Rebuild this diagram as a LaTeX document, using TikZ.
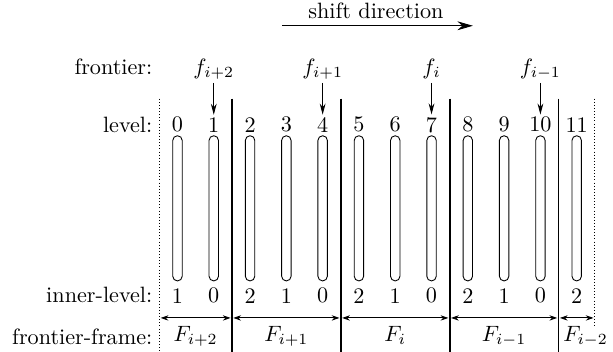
\documentclass[tikz,border=0pt]{standalone}
\usepackage{amsmath}
\usetikzlibrary{arrows.meta}

\begin{document}
\begin{tikzpicture}[
    x=0.575cm, y=0.575cm,
    capsule/.style    = {rounded corners=2.1pt},
    divider/.style    = {thick},
    edgeline/.style   = {densely dotted},
    rowlbl/.style     = {anchor=east, inner sep=1pt},
    num/.style        = {inner sep=1pt},
    flbl/.style       = {inner sep=1pt, text height=1.6ex, text depth=0.6ex},
    framelbl/.style   = {inner sep=1pt, text height=1.6ex, text depth=0.6ex},
    fptr/.style       = {-{Stealth[length=5pt, width=2.6pt]}},
    framearr/.style   = {{Stealth[length=3.5pt, width=2.4pt]}-{Stealth[length=3.5pt, width=2.4pt]},
                         shorten <=0.6pt, shorten >=0.6pt},
    shiftarr/.style   = {-{Stealth[length=7pt, width=4pt]}},
]
\useasboundingbox (-4.89,-1.54) rectangle (12.0,8.15);

% ============================================================
%  COLUMNS
%   level k at x = k, rows: level y = 4.71, inner-level y = 0
%   frame borders at x = -0.5, 1.5, 4.5, 7.5, 10.5, 11.5
% ============================================================

% ----------------------------------------------------------
%  ROW LABELS
% ----------------------------------------------------------
\node[rowlbl] (rowF)  at (-0.62, 6.30) {frontier:};
\node[rowlbl] (rowL)  at (-0.62, 4.71) {level:};
\node[rowlbl] (rowI)  at (-0.62, 0.03) {inner-level:};
\node[rowlbl] (rowFF) at (-0.62,-1.13) {frontier-frame:};

% ----------------------------------------------------------
%  FRAME  F_{i+2}  (levels 0 - 1)
% ----------------------------------------------------------
\draw[edgeline] (-0.5, 5.43) -- (-0.5,-1.54);
\node[num] (l0) at (0, 4.71) {0};
\node[num] (l1) at (1, 4.71) {1};
\draw[capsule] (-0.13, 0.41) rectangle (0.13, 4.41);
\draw[capsule] ( 0.87, 0.41) rectangle (1.13, 4.41);
\node[num] (n0) at (0, 0) {1};
\node[num] (n1) at (1, 0) {0};
\draw[divider] (1.5, 5.43) -- (1.5,-1.54);

% ----------------------------------------------------------
%  FRAME  F_{i+1}  (levels 2 - 4)
% ----------------------------------------------------------
\node[num] (l2) at (2, 4.71) {2};
\node[num] (l3) at (3, 4.71) {3};
\node[num] (l4) at (4, 4.71) {4};
\draw[capsule] (1.87, 0.41) rectangle (2.13, 4.41);
\draw[capsule] (2.87, 0.41) rectangle (3.13, 4.41);
\draw[capsule] (3.87, 0.41) rectangle (4.13, 4.41);
\node[num] (n2) at (2, 0) {2};
\node[num] (n3) at (3, 0) {1};
\node[num] (n4) at (4, 0) {0};
\draw[divider] (4.5, 5.43) -- (4.5,-1.54);

% ----------------------------------------------------------
%  FRAME  F_{i}  (levels 5 - 7)
% ----------------------------------------------------------
\node[num] (l5) at (5, 4.71) {5};
\node[num] (l6) at (6, 4.71) {6};
\node[num] (l7) at (7, 4.71) {7};
\draw[capsule] (4.87, 0.41) rectangle (5.13, 4.41);
\draw[capsule] (5.87, 0.41) rectangle (6.13, 4.41);
\draw[capsule] (6.87, 0.41) rectangle (7.13, 4.41);
\node[num] (n5) at (5, 0) {2};
\node[num] (n6) at (6, 0) {1};
\node[num] (n7) at (7, 0) {0};
\draw[divider] (7.5, 5.43) -- (7.5,-1.54);

% ----------------------------------------------------------
%  FRAME  F_{i-1}  (levels 8 - 10)
% ----------------------------------------------------------
\node[num] (l8)  at (8, 4.71)  {8};
\node[num] (l9)  at (9, 4.71)  {9};
\node[num] (l10) at (10, 4.71) {10};
\draw[capsule] (7.87, 0.41) rectangle (8.13, 4.41);
\draw[capsule] (8.87, 0.41) rectangle (9.13, 4.41);
\draw[capsule] (9.87, 0.41) rectangle (10.13, 4.41);
\node[num] (n8)  at (8, 0)  {2};
\node[num] (n9)  at (9, 0)  {1};
\node[num] (n10) at (10, 0) {0};
\draw[divider] (10.5, 5.43) -- (10.5,-1.54);

% ----------------------------------------------------------
%  FRAME  F_{i-2}  (level 11, cut off)
% ----------------------------------------------------------
\node[num] (l11) at (11, 4.71) {11};
\draw[capsule] (10.87, 0.41) rectangle (11.13, 4.41);
\node[num] (n11) at (11, 0) {2};
\draw[edgeline] (11.5, 5.43) -- (11.5,-0.85);

% ============================================================
%  FRONTIER POINTERS
% ============================================================
\node[flbl] (fip2) at (1, 6.23)  {$f_{i+2}$};
\node[flbl] (fip1) at (4, 6.23)  {$f_{i+1}$};
\node[flbl] (fi)   at (7, 6.23)  {$f_{i}$};
\node[flbl] (fim1) at (10, 6.23) {$f_{i-1}$};
\draw[fptr] (fip2) -- (l1);
\draw[fptr] (fip1) -- (l4);
\draw[fptr] (fi)   -- (l7);
\draw[fptr] (fim1) -- (l10);

% ============================================================
%  FRONTIER FRAMES
% ============================================================
\coordinate (b0) at (-0.5,-0.61);
\coordinate (b1) at ( 1.5,-0.61);
\coordinate (b2) at ( 4.5,-0.61);
\coordinate (b3) at ( 7.5,-0.61);
\coordinate (b4) at (10.5,-0.61);
\coordinate (b5) at (11.5,-0.61);
\draw[framearr] (b0) -- (b1);
\draw[framearr] (b1) -- (b2);
\draw[framearr] (b2) -- (b3);
\draw[framearr] (b3) -- (b4);
\draw[framearr] (b4) -- (b5);
\node[framelbl] (Fip2) at (0.5,-1.13) {$F_{i+2}$};
\node[framelbl] (Fip1) at (3.0,-1.13) {$F_{i+1}$};
\node[framelbl] (Fi)   at (6.0,-1.13) {$F_{i}$};
\node[framelbl] (Fim1) at (9.0,-1.13) {$F_{i-1}$};
\node[framelbl, anchor=west, inner sep=2pt] (Fim2) at (10.5,-1.13) {$F_{i-2}$};

% ============================================================
%  SHIFT DIRECTION
% ============================================================
\coordinate (sa) at (2.88, 7.44);
\coordinate (sb) at (8.14, 7.44);
\draw[shiftarr] (sa) -- (sb);
\node[inner sep=1pt] (shift) at (5.47, 7.84) {shift direction};

\end{tikzpicture}
\end{document}
